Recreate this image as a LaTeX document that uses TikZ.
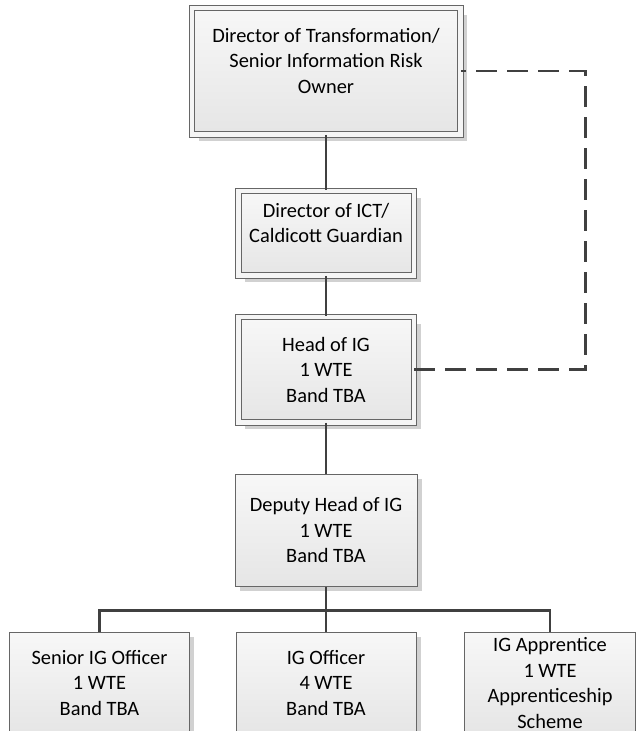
\documentclass[tikz,border=0pt]{standalone}
\usepackage{fontspec}
\setmainfont{Carlito}
\usetikzlibrary{positioning,calc,shadows}

\begin{document}
\begin{tikzpicture}[
      x=1pt,y=-1pt,
      font=\fontsize{20.4}{25.5}\selectfont,
      post/.style = {rectangle,draw=black!60,line width=1pt,top color=black!3,bottom color=black!10,
                     align=center,inner sep=0pt,text=black,
                     drop shadow={shadow xshift=#1,shadow yshift=-#1,fill=black!18,opacity=1}},
      post/.default = 4.5pt,
      dpost/.style = {post=7pt,double=black!4,double distance=4.5pt},
      conn/.style = {draw=black!75,line width=2.5pt},
      dashline/.style = {conn,dash pattern=on 21pt off 10pt}
      ]
      \useasboundingbox (0,0) rectangle (635,731);

      \node (dirtrans)[dpost,minimum width=268.5pt,minimum height=126.5pt] at (326,71)
            {Director of Transformation/\\Senior Information Risk\\Owner\\[-5pt]\mbox{}};
      \node (dirict)[dpost,minimum width=175.5pt,minimum height=84.5pt,below = 55.5pt of dirtrans]
            {Director of ICT/\\Caldicott Guardian\\[-5pt]\mbox{}};
      \node (head)[dpost,minimum width=175.5pt,minimum height=105.5pt,below = 40.5pt of dirict]
            {Head of IG\\1 WTE\\Band TBA};
      \node (deputy)[post,minimum width=182pt,minimum height=112pt,below = 50.75pt of head]
            {Deputy Head of IG\\1 WTE\\Band TBA};
      \node (igofficer)[post,minimum width=180pt,minimum height=102pt,below = 45pt of deputy]
            {IG Officer\\4 WTE\\Band TBA};
      \node (senior)[post,minimum width=180pt,minimum height=102pt,left = 45.5pt of igofficer]
            {Senior IG Officer\\1 WTE\\Band TBA};
      \node (apprentice)[post,minimum width=171pt,minimum height=102pt,right = 47.5pt of igofficer]
            {IG Apprentice\\1 WTE\\Apprenticeship\\Scheme};

      \draw[conn] (dirtrans.south) -- (dirict.north);
      \draw[conn] (dirict.south) -- (head.north);
      \draw[conn] (head.south) -- (deputy.north);
      \draw[conn] (deputy.south) -- (igofficer.north);
      \draw[conn] (senior.north) |- ($(deputy.south)!0.53!(igofficer.north)$) -| (apprentice.north);
      \draw[dashline] (head.east) -- ++(171,0) |- (dirtrans.east);
    \end{tikzpicture}
\end{document}
